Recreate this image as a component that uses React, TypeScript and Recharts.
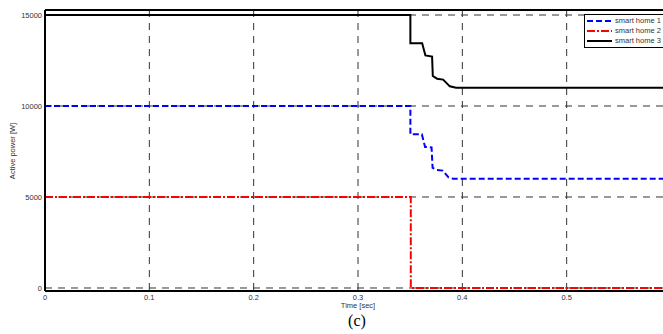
import React from 'react';
import { LineChart, Line, XAxis, YAxis, CartesianGrid, Legend, ReferenceLine } from 'recharts';

// time [sec] and active power [W] for each smart home
const home1Time = [0, 0.3502, 0.3502, 0.3612, 0.3643, 0.3705, 0.3715, 0.3755, 0.3812, 0.3868, 0.3912, 0.6];
const home1Power = [10000, 10000, 8450, 8450, 7750, 7720, 6600, 6490, 6450, 6080, 6000, 6000];

const home2Time = [0, 0.3506, 0.3506, 0.6];
const home2Power = [5000, 5000, 0, 0];

const home3Time = [0, 0.3502, 0.3502, 0.3615, 0.3646, 0.371, 0.3717, 0.3758, 0.3816, 0.388, 0.394, 0.6];
const home3Power = [15000, 15000, 13450, 13450, 12780, 12720, 11650, 11500, 11450, 11080, 11000, 11000];

const seriesNames = ['smart home 1', 'smart home 2', 'smart home 3'];
const xTicks = [0, 0.1, 0.2, 0.3, 0.4, 0.5];
const yTicks = [0, 5000, 10000, 15000];
const yMin = -165;
const yMax = 15275;

const toData = (t: number[], p: number[]) => t.map((v, i) => ({ t: v, p: p[i] }));
const home1Data = toData(home1Time, home1Power);
const home2Data = toData(home2Time, home2Power);
const home3Data = toData(home3Time, home3Power);

const styles = [
  { stroke: '#0000ff', dash: '6 3' },
  { stroke: '#ff0000', dash: '8 2 2 2' },
  { stroke: '#000000', dash: undefined as string | undefined },
];

const FONT = '"Liberation Sans", Arial, sans-serif';

const LegendBox = () => (
  <div
    style={{
      border: '1.5px solid #000',
      background: '#fff',
      padding: '1px 4px 1px 2px',
      width: 86,
      boxSizing: 'content-box',
    }}
  >
    {seriesNames.map((name, i) => (
      <div key={name} style={{ display: 'flex', alignItems: 'center', height: 10 }}>
        <svg width={25} height={6} style={{ display: 'block' }}>
          <line
            x1={0}
            y1={3}
            x2={25}
            y2={3}
            stroke={styles[i].stroke}
            strokeWidth={2}
            strokeDasharray={styles[i].dash}
          />
        </svg>
        <span
          style={{
            marginLeft: 3,
            fontSize: 7.5,
            lineHeight: '10px',
            fontFamily: FONT,
            color: '#333',
            whiteSpace: 'nowrap',
          }}
        >
          {name}
        </span>
      </div>
    ))}
  </div>
);

const YLabel = () => (
  <text
    x={13}
    y={151}
    transform="rotate(-90 13 151)"
    textAnchor="middle"
    dominantBaseline="middle"
    fontSize={7.5}
    fontFamily={FONT}
    fill="#333"
  >
    Active power [W]
  </text>
);

export default function App() {
  return (
    <div
      style={{
        position: 'absolute',
        left: 0,
        top: 0,
        width: 663,
        height: 334,
        overflow: 'hidden',
        background: '#fff',
      }}
    >
      <LineChart width={672} height={334} margin={{ top: 10, right: 1, bottom: 0, left: 5 }}>
        <CartesianGrid stroke="#333" strokeDasharray="7 6" strokeWidth={1} />
        <XAxis
          dataKey="t"
          type="number"
          domain={[0, 0.6]}
          ticks={xTicks}
          tickFormatter={(v: number) => String(v)}
          height={43}
          tickSize={0}
          tickMargin={3.5}
          axisLine={{ stroke: '#000', strokeWidth: 2 }}
          tickLine={false}
          tick={{ fontSize: 7.5, fontFamily: FONT, fill: '#333' }}
          allowDuplicatedCategory
          label={{
            value: 'Time [sec]',
            position: 'insideTop',
            offset: 12,
            style: { fontSize: 7.5, fontFamily: FONT, fill: '#333' },
          }}
        />
        <XAxis
          xAxisId="top"
          orientation="top"
          type="number"
          domain={[0, 0.6]}
          height={0}
          tick={false}
          tickLine={false}
          axisLine={{ stroke: '#000', strokeWidth: 2 }}
        />
        <YAxis
          type="number"
          domain={[yMin, yMax]}
          ticks={yTicks}
          width={40}
          tickSize={0}
          tickMargin={3}
          tickLine={false}
          axisLine={{ stroke: '#000', strokeWidth: 2 }}
          tick={{ fontSize: 7.5, fontFamily: FONT, fill: '#333' }}
          allowDataOverflow
          label={{ content: () => <YLabel /> }}
        />
        <ReferenceLine y={yMax} stroke="#000" strokeWidth={2} ifOverflow="visible" />
        <Legend
          layout="horizontal"
          verticalAlign="middle"
          wrapperStyle={{ left: 584, top: 14, width: 'auto', height: 'auto' }}
          content={() => <LegendBox />}
        />
        <Line
          data={home1Data}
          dataKey="p"
          name={seriesNames[0]}
          type="linear"
          stroke={styles[0].stroke}
          strokeWidth={2}
          strokeDasharray={styles[0].dash}
          dot={false}
          activeDot={false}
          isAnimationActive={false}
        />
        <Line
          data={home2Data}
          dataKey="p"
          name={seriesNames[1]}
          type="linear"
          stroke={styles[1].stroke}
          strokeWidth={2}
          strokeDasharray={styles[1].dash}
          dot={false}
          activeDot={false}
          isAnimationActive={false}
        />
        <Line
          data={home3Data}
          dataKey="p"
          name={seriesNames[2]}
          type="linear"
          stroke={styles[2].stroke}
          strokeWidth={2}
          dot={false}
          activeDot={false}
          isAnimationActive={false}
        />
      </LineChart>
      <div
        style={{
          position: 'absolute',
          left: 357,
          top: 311,
          transform: 'translateX(-50%)',
          fontFamily: '"Liberation Serif", "Times New Roman", serif',
          fontSize: 16,
          lineHeight: '20px',
          color: '#000',
        }}
      >
        (c)
      </div>
    </div>
  );
}
